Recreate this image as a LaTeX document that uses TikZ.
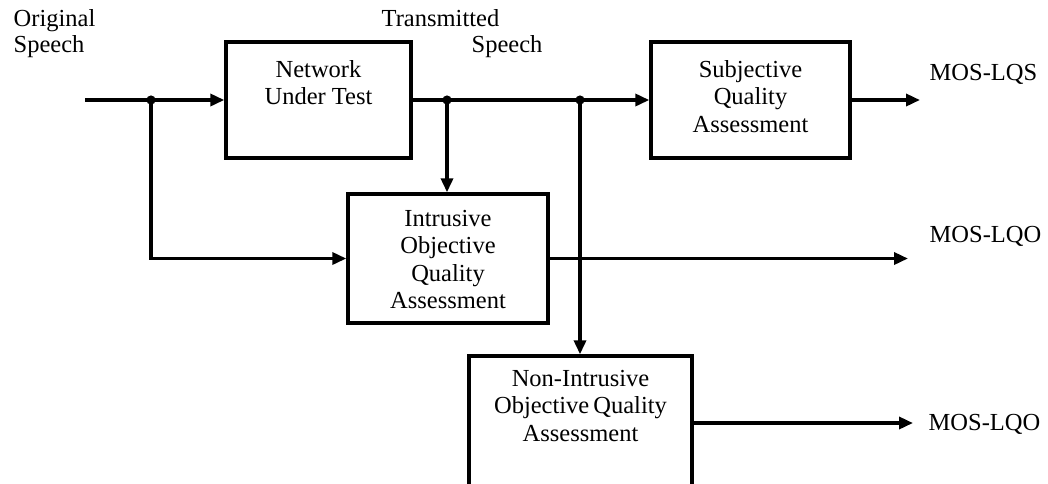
\documentclass[tikz,border=0pt]{standalone}
\usepackage{fontspec}
\setmainfont{Liberation Serif}
\usetikzlibrary{arrows.meta}
\begin{document}
\begin{tikzpicture}[x=0.5pt,y=-0.5pt,
  line width=1.7pt,
  box/.style={draw,line width=1.7pt,inner sep=0pt},
  boxtext/.style={anchor=north,align=center,inner sep=0pt,font=\fontsize{12.25pt}{13.75pt}\selectfont},
  lbl/.style={anchor=base west,inner sep=0pt,font=\fontsize{12.25pt}{13pt}\selectfont},
  arr/.style={-{Triangle[length=7pt,width=6pt]}},
  dot/.style={circle,fill,draw=none,inner sep=0pt,minimum size=4.6pt}
]
\useasboundingbox (0,0) rectangle (1048,483);
\fill[white] (0,0) rectangle (1048,483);

% boxes
\node[box,minimum width=92.5pt,minimum height=58pt] (net) at (318.5,100) {};
\node[box,minimum width=99.5pt,minimum height=58pt] (subj) at (750.5,100) {};
\node[box,minimum width=100pt,minimum height=64.5pt] (intr) at (448,258.5) {};
\node[box,minimum width=111.5pt,minimum height=67pt] (nonin) at (580.5,423) {};

% box texts
\node[boxtext] (nettxt) at (318.5,58.3) {Network\\Under Test};
\node[boxtext] (subjtxt) at (750.5,58.3) {Subjective\\Quality\\Assessment};
\node[boxtext] (intrtxt) at (448,208.3) {Intrusive\\Objective\\Quality\\Assessment};
\node[boxtext] (nonintxt) at (580.5,368.3) {Non-Intrusive\\Objective\,Quality\\Assessment};

% labels
\node[lbl] (orig1) at (12,26) {Original};
\node[lbl] (orig2) at (12,52) {Speech};
\node[lbl] (trans1) at (380,26) {Transmitted};
\node[lbl] (trans2) at (470,52) {Speech};
\node[lbl] (mosa) at (928,80) {MOS-LQS};
\node[lbl] (mosb) at (928,242) {MOS-LQO};
\node[lbl] (mosc) at (927,430) {MOS-LQO};

% coordinates
\coordinate (in) at (85,100);
\coordinate (j1) at (151,100);
\coordinate (j2) at (447,100);
\coordinate (j3) at (580,100);
\coordinate (outA) at (920,100);
\coordinate (outB) at (908,258.5);
\coordinate (outC) at (913,423);

% connectors
\draw (in) -- (j1);
\draw[arr] (j1) -- (net.west);
\draw (net.east) -- (j3);
\draw[arr] (j3) -- (subj.west);
\draw[arr] (j2) -- (j2 |- intr.north);
\draw[arr] (j1) |- (intr.west);
\draw[arr] (j3) -- (j3 |- nonin.north);
\draw[arr] (subj.east) -- (outA);
\draw[arr] (intr.east) -- (outB);
\draw[arr] (nonin.east) -- (outC);

% junction dots
\node[dot] (d1) at (j1) {};
\node[dot] (d2) at (j2) {};
\node[dot] (d3) at (j3) {};
\end{tikzpicture}
\end{document}
